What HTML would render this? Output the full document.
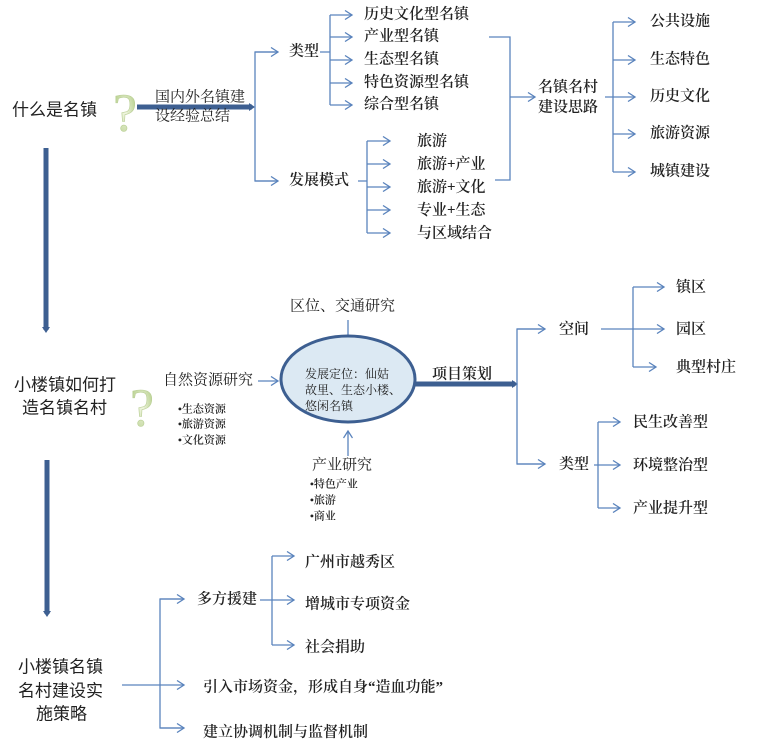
<!DOCTYPE html>
<html><head><meta charset="utf-8"><style>
html,body{margin:0;padding:0;background:#fff;}
svg{display:block;}
text{font-family:"Liberation Serif","Noto Serif CJK SC",serif;fill:#222;dominant-baseline:middle;}
.t{font-size:15px;font-weight:600;}
.s{font-size:11px;font-weight:600;}
.b{font-family:"Liberation Sans","Noto Sans CJK SC",sans-serif;font-size:17px;font-weight:400;}
.l{stroke:#5b84bd;stroke-width:1.3;fill:none;}
.k{stroke:#3d5f91;stroke-width:5;fill:none;}
.q{font-size:54px;fill:url(#q);stroke:#b9cf95;stroke-width:.6;font-family:'Liberation Serif',serif;}
</style></head><body>
<svg width="781" height="752" viewBox="0 0 781 752" xmlns="http://www.w3.org/2000/svg">
<defs>
<marker id="a" markerWidth="10" markerHeight="10" refX="8" refY="5" orient="auto" markerUnits="userSpaceOnUse"><path d="M1,0.5 L8,5 L1,9.5" stroke="#5b84bd" stroke-width="1.3" fill="none"/></marker>
<marker id="k" markerWidth="8" markerHeight="8" refX="3" refY="4" orient="auto" markerUnits="userSpaceOnUse"><path d="M0,0 L6,4 L0,8 Z" fill="#3d5f91"/></marker>
<radialGradient id="q" cx="0.5" cy="0.5" r="0.6"><stop offset="0" stop-color="#f3f7e4"/><stop offset="1" stop-color="#a9c77a"/></radialGradient>
</defs>

<!-- top -->
<text class="b" x="12" y="111">什么是名镇</text>
<text class="q" x="113" y="118">?</text>
<line class="k" x1="137" y1="107" x2="252" y2="107" marker-end="url(#k)"/>
<text class="t" x="155" y="98" style="font-weight:400">国内外名镇建</text>
<text class="t" x="155" y="117" style="font-weight:400">设经验总结</text>
<path class="l" d="M278,52 H255 V181 H278"/>
<line class="l" x1="255" y1="52" x2="278" y2="52" marker-end="url(#a)"/>
<line class="l" x1="255" y1="181" x2="278" y2="181" marker-end="url(#a)"/>
<text class="t" x="289" y="52">类型</text>
<text class="t" x="289" y="181">发展模式</text>
<path class="l" d="M320,52 H330 M330,15 V105"/>
<g class="l">
<line x1="330" y1="15" x2="352" y2="15" marker-end="url(#a)"/>
<line x1="330" y1="37" x2="352" y2="37" marker-end="url(#a)"/>
<line x1="330" y1="60" x2="352" y2="60" marker-end="url(#a)"/>
<line x1="330" y1="83" x2="352" y2="83" marker-end="url(#a)"/>
<line x1="330" y1="105" x2="352" y2="105" marker-end="url(#a)"/>
</g>
<text class="t" x="364" y="15">历史文化型名镇</text>
<text class="t" x="364" y="37">产业型名镇</text>
<text class="t" x="364" y="60">生态型名镇</text>
<text class="t" x="364" y="83">特色资源型名镇</text>
<text class="t" x="364" y="105">综合型名镇</text>
<path class="l" d="M358,181 H367 M367,141 V233"/>
<g class="l">
<line x1="367" y1="141" x2="390" y2="141" marker-end="url(#a)"/>
<line x1="367" y1="164" x2="390" y2="164" marker-end="url(#a)"/>
<line x1="367" y1="187" x2="390" y2="187" marker-end="url(#a)"/>
<line x1="367" y1="210" x2="390" y2="210" marker-end="url(#a)"/>
<line x1="367" y1="233" x2="390" y2="233" marker-end="url(#a)"/>
</g>
<text class="t" x="417" y="142">旅游</text>
<text class="t" x="417" y="165">旅游+产业</text>
<text class="t" x="417" y="188">旅游+文化</text>
<text class="t" x="417" y="211">专业+生态</text>
<text class="t" x="417" y="234">与区域结合</text>
<path class="l" d="M489,37 H510 V180 H495"/>
<line class="l" x1="510" y1="97" x2="535" y2="97" marker-end="url(#a)"/>
<text class="t" x="538" y="88">名镇名村</text>
<text class="t" x="538" y="108">建设思路</text>
<path class="l" d="M605,97 H613 M613,22 V172"/>
<g class="l">
<line x1="613" y1="22" x2="635" y2="22" marker-end="url(#a)"/>
<line x1="613" y1="60" x2="635" y2="60" marker-end="url(#a)"/>
<line x1="613" y1="97" x2="635" y2="97" marker-end="url(#a)"/>
<line x1="613" y1="134" x2="635" y2="134" marker-end="url(#a)"/>
<line x1="613" y1="172" x2="635" y2="172" marker-end="url(#a)"/>
</g>
<text class="t" x="650" y="22">公共设施</text>
<text class="t" x="650" y="60">生态特色</text>
<text class="t" x="650" y="97">历史文化</text>
<text class="t" x="650" y="134">旅游资源</text>
<text class="t" x="650" y="172">城镇建设</text>

<line class="k" x1="46" y1="148" x2="46" y2="330" marker-end="url(#k)"/>

<!-- middle -->
<text class="b" x="14" y="386">小楼镇如何打</text>
<text class="b" x="22" y="409">造名镇名村</text>
<text class="q" x="130" y="413">?</text>
<text class="t" x="290" y="307" style="font-weight:400">区位、交通研究</text>
<line class="l" x1="348" y1="320" x2="348" y2="343" marker-end="url(#a)"/>
<ellipse cx="348" cy="379" rx="67" ry="43" fill="#dce9f3" stroke="#3d5f91" stroke-width="3"/>
<text x="305" y="375" style="font-size:12px">发展定位：仙姑</text>
<text x="305" y="391" style="font-size:12px">故里、生态小楼、</text>
<text x="305" y="407" style="font-size:12px">悠闲名镇</text>
<text class="t" x="163" y="381" style="font-weight:400">自然资源研究</text>
<line class="l" x1="258" y1="381" x2="278" y2="381" marker-end="url(#a)"/>
<text class="s" x="178" y="410">•生态资源</text>
<text class="s" x="178" y="425">•旅游资源</text>
<text class="s" x="178" y="441">•文化资源</text>
<line class="l" x1="348" y1="456" x2="348" y2="431" marker-end="url(#a)"/>
<text class="t" x="312" y="466" style="font-weight:400">产业研究</text>
<text class="s" x="310" y="485">•特色产业</text>
<text class="s" x="310" y="501">•旅游</text>
<text class="s" x="310" y="517">•商业</text>
<text class="t" x="432" y="375">项目策划</text>
<line class="k" x1="415" y1="384" x2="515" y2="384" marker-end="url(#k)"/>
<path class="l" d="M545,329 H517 V464 H545"/>
<line class="l" x1="517" y1="329" x2="545" y2="329" marker-end="url(#a)"/>
<line class="l" x1="517" y1="464" x2="545" y2="464" marker-end="url(#a)"/>
<text class="t" x="559" y="330">空间</text>
<text class="t" x="559" y="465">类型</text>
<path class="l" d="M601,329 H633 M633,287 V367"/>
<g class="l">
<line x1="633" y1="287" x2="664" y2="287" marker-end="url(#a)"/>
<line x1="633" y1="329" x2="664" y2="329" marker-end="url(#a)"/>
<line x1="633" y1="367" x2="656" y2="367" marker-end="url(#a)"/>
</g>
<text class="t" x="676" y="288">镇区</text>
<text class="t" x="676" y="330">园区</text>
<text class="t" x="676" y="368">典型村庄</text>
<path class="l" d="M594,465 H598 M598,422 V508"/>
<g class="l">
<line x1="598" y1="422" x2="620" y2="422" marker-end="url(#a)"/>
<line x1="598" y1="465" x2="620" y2="465" marker-end="url(#a)"/>
<line x1="598" y1="508" x2="620" y2="508" marker-end="url(#a)"/>
</g>
<text class="t" x="633" y="423">民生改善型</text>
<text class="t" x="633" y="466">环境整治型</text>
<text class="t" x="633" y="509">产业提升型</text>

<line class="k" x1="47" y1="460" x2="47" y2="614" marker-end="url(#k)"/>

<!-- bottom -->
<text class="b" x="18" y="668">小楼镇名镇</text>
<text class="b" x="18" y="692">名村建设实</text>
<text class="b" x="36" y="715">施策略</text>
<line class="l" x1="122" y1="685" x2="160" y2="685"/>
<path class="l" d="M183,599 H160 V728 H183"/>
<g class="l">
<line x1="160" y1="599" x2="184" y2="599" marker-end="url(#a)"/>
<line x1="160" y1="685" x2="184" y2="685" marker-end="url(#a)"/>
<line x1="160" y1="728" x2="184" y2="728" marker-end="url(#a)"/>
</g>
<text class="t" x="197" y="600">多方援建</text>
<text class="t" x="203" y="688">引入市场资金，形成自身“造血功能”</text>
<text class="t" x="203" y="733">建立协调机制与监督机制</text>
<path class="l" d="M260,600 H272 M272,556 V645"/>
<g class="l">
<line x1="272" y1="556" x2="294" y2="556" marker-end="url(#a)"/>
<line x1="272" y1="600" x2="294" y2="600" marker-end="url(#a)"/>
<line x1="272" y1="645" x2="294" y2="645" marker-end="url(#a)"/>
</g>
<text class="t" x="305" y="563">广州市越秀区</text>
<text class="t" x="305" y="605">增城市专项资金</text>
<text class="t" x="305" y="648">社会捐助</text>
</svg>
</body></html>
